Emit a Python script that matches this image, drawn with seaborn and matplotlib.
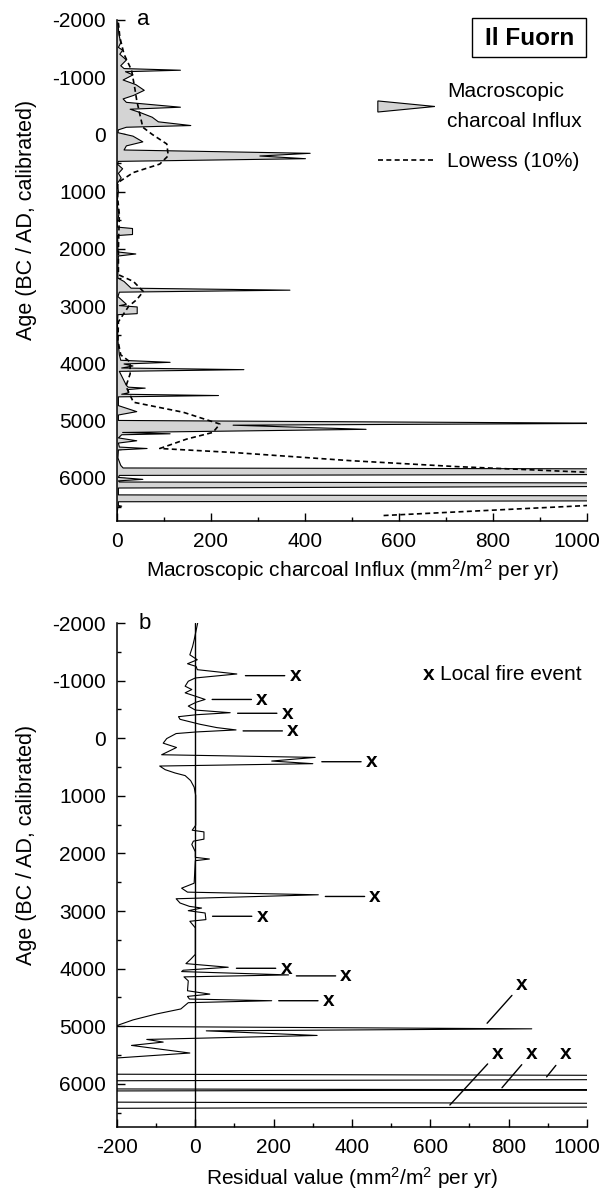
import matplotlib
matplotlib.use("Agg")
import matplotlib.pyplot as plt
import matplotlib.transforms as mtransforms
import seaborn as sns
from matplotlib.patches import Polygon, Rectangle
from matplotlib.legend_handler import HandlerPatch
from matplotlib.lines import Line2D
from matplotlib.ticker import MultipleLocator

# Charbon macroscopique (panneau a) : age (BC < 0 / AD) et influx (mm2/m2 par an)
AGE_INFLUX = [-1950, -1750, -1600, -1520, -1470, -1400, -1300, -1200, -1150, -1121,
              -1095, -1040, -950, -870, -770, -680, -620, -560, -475, -440,
              -380, -300, -220, -155, -125, -80, -30, 30, 130, 200,
              272, 330, 377, 424, 471, 520, 600, 680, 760, 850,
              1000, 1200, 1400, 1550, 1619, 1643, 1748, 1766, 1900, 2053,
              2088, 2123, 2300, 2510, 2568, 2685, 2720, 2755, 2832, 2966,
              2990, 3013, 3130, 3148, 3300, 3600, 3850, 3944, 3980, 4009,
              4044, 4079, 4108, 4138, 4384, 4414, 4431, 4455, 4513, 4537,
              4560, 4583, 4736, 4841, 4900, 4995, 5045, 5078, 5150, 5205,
              5228, 5245, 5300, 5350, 5390, 5460, 5485, 5510, 5650, 5780,
              5825, 5890, 5955, 5990, 6024, 6050, 6070, 6110, 6175, 6295,
              6355, 6415, 6480, 6492, 6505, 6640]
INFLUX = [2, 4, 8, 3, 12, 6, 20, 8, 15, 135,
          18, 34, 13, 40, 58, 35, 13, 20, 135, 28,
          50, 75, 88, 157, 20, 3, 2, 34, 55, 20,
          15, 411, 304, 401, 3, 1, 12, 3, 9, 1,
          3, 0, 4, 0, 1, 33, 33, 1, 2, 2,
          40, 3, 2, 2, 15, 30, 368, 5, 2, 20,
          5, 43, 43, 2, 1, 2, 5, 8, 113, 15,
          34, 10, 270, 5, 20, 24, 60, 24, 24, 10,
          216, 3, 3, 42, 3, 3, 1080, 247, 530, 12,
          113, 10, 3, 42, 3, 5, 64, 3, 2, 8,
          13, 4500, 5, 3, 55, 3, 5, 2600, 3, 3,
          4000, 3, 3, 10, 2, 0]

# Courbe Lowess (10 %)
AGE_LOWESS = [-1950, -1700, -1400, -1121, -800, -594, -300, -125, 0, 167,
              372, 518, 665, 841, 1000, 1400, 2000, 2450, 2568, 2744,
              2885, 3000, 3271, 3600, 3850, 3974, 4180, 4400, 4677, 4852,
              5058, 5204, 5321, 5485, 5555, 5697, 5800, 5900, 6000, 6200,
              6400, 6481, 6657]
LOWESS = [3, 6, 15, 31, 38, 42, 50, 55, 75, 106,
          109, 91, 35, 2, 0, 5, 3, 3, 35, 56,
          42, 25, 3, 2, 8, 28, 28, 19, 35, 141,
          219, 204, 148, 91, 248, 496, 720, 1000, 1300, 1500,
          1250, 1000, 563]

# Residus (panneau b)
AGE_RESID = [-2000, -1707, -1592, -1448, -1362, -1293, -1247, -1190, -1115, -1046,
             -989, -903, -845, -788, -730, -673, -627, -558, -489, -443,
             -408, -374, -328, -242, -184, -144, -109, -81, 6, 86,
             161, 287, 333, 396, 442, 483, 546, 603, 649, 735,
             850, 994, 1511, 1597, 1626, 1752, 1787, 1844, 1971, 2068,
             2097, 2126, 2517, 2603, 2672, 2718, 2787, 2861, 2919, 2948,
             2994, 3034, 3149, 3178, 3292, 3752, 3838, 3913, 3976, 4028,
             4051, 4109, 4143, 4212, 4384, 4442, 4482, 4528, 4557, 4591,
             4700, 4787, 4890, 4971, 5003, 5045, 5080, 5160, 5229, 5275,
             5333, 5465, 5551, 5600, 5700, 5825, 5890, 5960, 6024, 6075,
             6105, 6140, 6300, 6370, 6440, 6500, 6640]
RESID = [6, -3, -7, -14, 5, -20, 2, 5, 106, 0,
         -18, -26, -9, -26, 0, 25, 3, -18, 0, 89,
         3, -43, -39, 12, 55, 104, 3, -49, -73, -82,
         -48, -86, 306, 195, 300, -91, -77, -52, -26, -12,
         -3, 1, 1, -8, 22, 22, -5, -9, 0, 0,
         36, 0, -3, -35, -20, 314, -49, -39, -15, 16,
         -18, 25, 27, -14, 0, 0, -12, -24, 84, -31,
         -35, 238, -29, -18, -20, 37, -20, -15, 195, -18,
         -37, -99, -159, -193, -205, 859, 28, 311, -124, -82,
         -163, -14, -200, -300, -496, -720, 3500, -1100, -1300, -1350,
         1150, -1450, -1300, 3000, -1100, -980, -620]

# Evenements de feu locaux : position du "x" et extremite du trait
FIRE_V = [255, 170, 235, 249, 450, 459, 171, 232, 385, 340, 834, 772, 859, 946]
FIRE_AGE = [-1086, -673, -433, -127, 408, 2747, 3091, 3994, 4126, 4557, 4270, 5465, 5465, 5465]
LEAD_V = [128, 43, 108, 122, 323, 332, 44, 105, 258, 213, 745, 650, 783, 897]
LEAD_AGE = [-1086, -673, -433, -127, 408, 2747, 3091, 3994, 4126, 4557, 4948, 6367, 6068, 5879]

GREY = "#d4d4d4"
FS = 15

sns.set_theme(style="ticks")
plt.rcParams.update({
    "font.family": ["Liberation Sans", "DejaVu Sans"],
    "mathtext.fontset": "custom",
    "mathtext.rm": "Liberation Sans",
    "mathtext.it": "Liberation Sans:italic",
    "mathtext.bf": "Liberation Sans:bold",
    "axes.unicode_minus": False,
    "font.size": FS,
    "axes.labelsize": FS,
    "xtick.labelsize": FS,
    "ytick.labelsize": FS,
    "axes.linewidth": 1.1,
    "axes.edgecolor": "black",
    "axes.labelcolor": "black",
    "text.color": "black",
    "xtick.color": "black",
    "ytick.color": "black",
    "axes.facecolor": "white",
})


def wedge(legend, orig_handle, xdescent, ydescent, width, height, fontsize):
    # poignee de legende en forme de pic
    return Polygon([[-xdescent, -ydescent + 0.12 * height],
                    [-xdescent, -ydescent + 0.88 * height],
                    [-xdescent + width, -ydescent + 0.5 * height]], closed=True)


def style_axis(ax, xmin, label_y):
    ax.set_xlim(xmin, 1000)
    ax.set_ylim(6750, -2000)
    ax.xaxis.set_major_locator(MultipleLocator(200))
    ax.xaxis.set_minor_locator(MultipleLocator(100))
    ax.yaxis.set_major_locator(MultipleLocator(1000))
    ax.yaxis.set_minor_locator(MultipleLocator(500))
    ax.tick_params(which="both", direction="in", width=1.0)
    ax.tick_params(which="major", length=5.8, pad=8)
    ax.tick_params(which="minor", length=2.9)
    sns.despine(ax=ax)
    ax.set_ylabel("Age (BC / AD, calibrated)", fontsize=15.5)
    ax.yaxis.set_label_coords(-0.17, label_y)


fig = plt.figure(figsize=(6.04, 11.91), dpi=100)
ax_a = fig.add_axes([0.1937, 0.5626, 0.7781, 0.4207])
ax_b = fig.add_axes([0.1937, 0.0537, 0.7781, 0.4232])

# Panneau a : influx + lowess
ax_a.fill_betweenx(AGE_INFLUX, 0, INFLUX, facecolor=GREY, edgecolor="none")
sns.lineplot(x=INFLUX, y=AGE_INFLUX, orient="y", sort=False, estimator=None,
             color="black", lw=0.8, ax=ax_a)
sns.lineplot(x=LOWESS, y=AGE_LOWESS, orient="y", sort=False, estimator=None,
             color="black", lw=1.2, linestyle=(0, (3, 2)), ax=ax_a)
style_axis(ax_a, 0, 0.6)
ax_a.set_xlabel("Macroscopic charcoal Influx (mm$^2$/m$^2$ per yr)", labelpad=4)
ax_a.text(0.042, 1.0, "a", transform=ax_a.transAxes, fontsize=16, ha="left", va="center")

ax_a.add_patch(Rectangle((0.755, 0.9255), 0.244, 0.0775, transform=ax_a.transAxes,
                         fill=False, lw=1.0, edgecolor="black", clip_on=False))
ax_a.text(0.877, 0.963, "Il Fuorn", transform=ax_a.transAxes, fontsize=17.5,
          fontweight="bold", ha="center", va="center")

handles = [Polygon([[0, 0], [1, 0], [0, 1]], closed=True, facecolor=GREY,
                   edgecolor="black", lw=0.8),
           Line2D([], [], color="black", lw=1.2, linestyle=(0, (3, 2)))]
leg = ax_a.legend(handles, ["Macroscopic\ncharcoal Influx", "Lowess (10%)"],
                  handler_map={Polygon: HandlerPatch(patch_func=wedge)},
                  loc="upper left", bbox_to_anchor=(0.555, 0.876), frameon=False,
                  handlelength=2.74, handletextpad=0.58, labelspacing=1.05,
                  borderpad=0, borderaxespad=0, fontsize=FS)
for t in leg.get_texts():
    t.set_linespacing(1.7)

# Panneau b : residus + evenements de feu
ax_b.axvline(0, color="black", lw=1.0)
sns.lineplot(x=RESID, y=AGE_RESID, orient="y", sort=False, estimator=None,
             color="black", lw=0.8, ax=ax_b)
style_axis(ax_b, -200, 0.56)
ax_b.set_xlabel("Residual value (mm$^2$/m$^2$ per yr)", labelpad=6)
ax_b.text(0.045, 1.0, "b", transform=ax_b.transAxes, fontsize=16, ha="left", va="center")

for v, a, lv, la in zip(FIRE_V, FIRE_AGE, LEAD_V, LEAD_AGE):
    ax_b.annotate("x", xy=(lv, la), xytext=(v, a), ha="center", va="center",
                  fontsize=FS, fontweight="bold",
                  arrowprops=dict(arrowstyle="-", color="black", lw=1.0,
                                  shrinkA=1, shrinkB=0))

ax_b.text(595, -1100, "x", fontsize=FS, fontweight="bold", ha="center", va="center")
ax_b.text(625, -1100, "Local fire event", fontsize=FS, ha="left", va="center")

# le dernier label "1000" est decale a gauche pour rester dans la figure
fig.canvas.draw()
shift = mtransforms.ScaledTranslation(-7 / 72, 0, fig.dpi_scale_trans)
for ax in (ax_a, ax_b):
    for lab in ax.get_xticklabels():
        if lab.get_text() == "1000":
            lab.set_transform(lab.get_transform() + shift)

fig.savefig("out.png", dpi=100)
